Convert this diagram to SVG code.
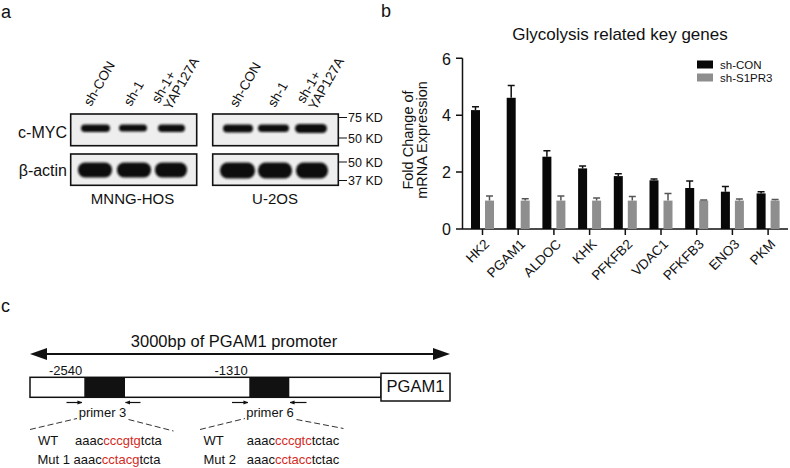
<svg xmlns="http://www.w3.org/2000/svg" width="790" height="468" viewBox="0 0 790 468">
<defs>
<style>
text{font-family:"Liberation Sans",Arial,sans-serif;fill:#111}
.pl{font-size:18px}
.lane{font-size:13.5px}
.row{font-size:16px;text-anchor:end}
.cell{font-size:15px;text-anchor:middle}
.kd{font-size:12.5px}
.blot{fill:#eeeeee;stroke:#111;stroke-width:1.6}
.band{fill:#111;filter:url(#blur)}
.ax{stroke:#111;stroke-width:1.5;fill:none}
.bk{fill:#080808}
.gr{fill:#8e8e8e}
.eb{stroke:#111;stroke-width:1.5;fill:none}
.ebg{stroke:#555;stroke-width:1.5;fill:none}
.tk{font-size:16px;text-anchor:end}
.xl{font-size:13.5px;text-anchor:end}
.lg{font-size:11.5px}
.seq{font-size:13px}
.red{fill:#d42a1e}
.dash{stroke:#333;stroke-width:1;stroke-dasharray:6 3;fill:none}
.pr{stroke:#111;stroke-width:1.2;fill:none}
</style>
<filter id="blur" x="-20%" y="-50%" width="140%" height="200%"><feGaussianBlur stdDeviation="1.3"/></filter>
<marker id="pa" viewBox="0 0 6 6" refX="5.5" refY="3" markerWidth="5" markerHeight="5" markerUnits="userSpaceOnUse" orient="auto"><path d="M0,0.5 L6,3 L0,5.5 Z" fill="#111"/></marker>
</defs>
<rect width="790" height="468" fill="#fff"/>

<!-- Panel a -->
<g id="panel-a">
<text class="pl" x="1" y="18">a</text>
<g id="blot-mnng">
<text class="lane" transform="translate(91,107) rotate(-60)">sh-CON</text>
<text class="lane" transform="translate(131,107) rotate(-60)">sh-1</text>
<text class="lane" transform="translate(159,104) rotate(-60)"><tspan x="0" y="0">sh-1+</tspan><tspan x="0" y="13.5">YAP127A</tspan></text>
<text class="row" x="67" y="138">c-MYC</text>
<text class="row" x="67" y="176">β-actin</text>
<rect class="blot" x="70.7" y="114" width="126" height="31.7"/>
<rect class="blot" x="70.7" y="154" width="126" height="31.3"/>
<rect class="band" x="81" y="124.5" width="29" height="7.5" rx="3.7"/>
<rect class="band" x="119" y="124.5" width="28" height="7" rx="3.5"/>
<rect class="band" x="158" y="124.5" width="27" height="7.5" rx="3.7"/>
<rect class="band" x="78" y="162.5" width="34" height="15" rx="7"/>
<rect class="band" x="117" y="162.5" width="34" height="15" rx="7"/>
<rect class="band" x="155" y="162.5" width="32" height="15" rx="7"/>
<text class="cell" x="132.5" y="204">MNNG-HOS</text>
</g>
<g id="blot-u2os">
<text class="lane" transform="translate(237,108) rotate(-60)">sh-CON</text>
<text class="lane" transform="translate(275,108) rotate(-60)">sh-1</text>
<text class="lane" transform="translate(304,104) rotate(-60)"><tspan x="0" y="0">sh-1+</tspan><tspan x="0" y="13.5">YAP127A</tspan></text>
<rect class="blot" x="212.7" y="114" width="125.6" height="31.7"/>
<rect class="blot" x="212.7" y="154" width="125.6" height="31.3"/>
<rect class="band" x="223" y="124.5" width="30" height="8" rx="4"/>
<rect class="band" x="258" y="124.5" width="31" height="7.5" rx="3.7"/>
<rect class="band" x="295" y="124" width="32" height="9" rx="4.5"/>
<rect class="band" x="220" y="162.5" width="35" height="16" rx="7.5"/>
<rect class="band" x="258" y="162.5" width="34" height="16" rx="7.5"/>
<rect class="band" x="296" y="162.5" width="32" height="16" rx="7.5"/>
<text class="cell" x="275" y="204">U-2OS</text>
<path class="ax" d="M338.3,117.5 H347 M338.3,138 H347 M338.3,162 H347 M338.3,180.5 H347" style="stroke-width:1.2"/>
<text class="kd" x="348" y="122">75 KD</text>
<text class="kd" x="348" y="142.5">50 KD</text>
<text class="kd" x="348" y="166.5">50 KD</text>
<text class="kd" x="348" y="185">37 KD</text>
</g>
</g>

<!-- Panel b -->
<g id="panel-b">
<text class="pl" x="381" y="17">b</text>
<text x="620" y="40" style="font-size:17px;text-anchor:middle">Glycolysis related key genes</text>
<text transform="translate(412.5,140) rotate(-90)" style="font-size:14.5px;text-anchor:middle">Fold Change of</text>
<text transform="translate(427,140) rotate(-90)" style="font-size:14.5px;text-anchor:middle">mRNA Expression</text>
<g id="axes">
<path class="ax" d="M462.5,58.3 V229 M456,229 H788 M456,58.3 H462.5 M456,115.2 H462.5 M456,172.1 H462.5"/>
<text class="tk" x="451" y="64.5">6</text>
<text class="tk" x="451" y="121.4">4</text>
<text class="tk" x="451" y="178.3">2</text>
<text class="tk" x="451" y="235">0</text>
<path class="ax" d="M482.5,229 V235 M518.2,229 V235 M553.9,229 V235 M589.6,229 V235 M625.3,229 V235 M661,229 V235 M696.7,229 V235 M732.4,229 V235 M768.1,229 V235"/>
</g>
<g id="bars">
<!-- HK2 -->
<rect class="bk" x="471" y="110.1" width="9" height="118.9"/>
<path class="eb" d="M475.5,110.1 V106.7 M472,106.7 H479"/>
<rect class="gr" x="485" y="200.6" width="9" height="28.4"/>
<path class="ebg" d="M489.5,200.6 V196 M486,196 H493"/>
<!-- PGAM1 -->
<rect class="bk" x="506.7" y="97.8" width="9" height="131.2"/>
<path class="eb" d="M511.2,97.8 V85.6 M507.7,85.6 H514.7"/>
<rect class="gr" x="520.7" y="200.6" width="9" height="28.4"/>
<path class="ebg" d="M525.2,200.6 V198.8 M521.7,198.8 H528.7"/>
<!-- ALDOC -->
<rect class="bk" x="542.4" y="156.7" width="9" height="72.3"/>
<path class="eb" d="M546.9,156.7 V150.8 M543.4,150.8 H550.4"/>
<rect class="gr" x="556.4" y="200.6" width="9" height="28.4"/>
<path class="ebg" d="M560.9,200.6 V196 M557.4,196 H564.4"/>
<!-- KHK -->
<rect class="bk" x="578.1" y="168.4" width="9" height="60.6"/>
<path class="eb" d="M582.6,168.4 V166.1 M579.1,166.1 H586.1"/>
<rect class="gr" x="592.1" y="200.6" width="9" height="28.4"/>
<path class="ebg" d="M596.6,200.6 V198 M593.1,198 H600.1"/>
<!-- PFKFB2 -->
<rect class="bk" x="613.8" y="176.1" width="9" height="52.9"/>
<path class="eb" d="M618.3,176.1 V173.8 M614.8,173.8 H621.8"/>
<rect class="gr" x="627.8" y="200.6" width="9" height="28.4"/>
<path class="ebg" d="M632.3,200.6 V196.6 M628.8,196.6 H635.8"/>
<!-- VDAC1 -->
<rect class="bk" x="649.5" y="180.3" width="9" height="48.7"/>
<path class="eb" d="M654,180.3 V178.9 M650.5,178.9 H657.5"/>
<rect class="gr" x="663.5" y="200.6" width="9" height="28.4"/>
<path class="ebg" d="M668,200.6 V193.4 M664.5,193.4 H671.5"/>
<!-- PFKFB3 -->
<rect class="bk" x="685.2" y="188" width="9" height="41"/>
<path class="eb" d="M689.7,188 V180.9 M686.2,180.9 H693.2"/>
<rect class="gr" x="699.2" y="200.6" width="9" height="28.4"/>
<path class="ebg" d="M703.7,200.6 V200 M700.2,200 H707.2"/>
<!-- ENO3 -->
<rect class="bk" x="720.9" y="191.7" width="9" height="37.3"/>
<path class="eb" d="M725.4,191.7 V186.6 M721.9,186.6 H728.9"/>
<rect class="gr" x="734.9" y="200.6" width="9" height="28.4"/>
<path class="ebg" d="M739.4,200.6 V199.1 M735.9,199.1 H742.9"/>
<!-- PKM -->
<rect class="bk" x="756.6" y="193.4" width="9" height="35.6"/>
<path class="eb" d="M761.1,193.4 V191.7 M757.6,191.7 H764.6"/>
<rect class="gr" x="770.6" y="200.6" width="9" height="28.4"/>
<path class="ebg" d="M775.1,200.6 V199.4 M771.6,199.4 H778.6"/>
</g>
<g id="xlabels">
<text class="xl" transform="translate(490,245) rotate(-45)">HK2</text>
<text class="xl" transform="translate(526,245) rotate(-45)">PGAM1</text>
<text class="xl" transform="translate(562,245) rotate(-45)">ALDOC</text>
<text class="xl" transform="translate(597.6,245) rotate(-45)">KHK</text>
<text class="xl" transform="translate(633.3,245) rotate(-45)">PFKFB2</text>
<text class="xl" transform="translate(669,245) rotate(-45)">VDAC1</text>
<text class="xl" transform="translate(704.7,245) rotate(-45)">PFKFB3</text>
<text class="xl" transform="translate(740.4,245) rotate(-45)">ENO3</text>
<text class="xl" transform="translate(776.1,245) rotate(-45)">PKM</text>
</g>
<g id="legend">
<rect class="bk" x="697" y="60.5" width="16" height="8"/>
<text class="lg" x="720" y="69">sh-CON</text>
<rect class="gr" x="697" y="73.5" width="16" height="8"/>
<text class="lg" x="720" y="82">sh-S1PR3</text>
</g>
</g>

<!-- Panel c -->
<g id="panel-c">
<text class="pl" x="1" y="312">c</text>
<g id="span-arrow">
<path d="M45,354 H435" stroke="#111" stroke-width="2"/>
<polygon points="30,354 47,348 47,360" fill="#111"/>
<polygon points="450,354 433,348 433,360" fill="#111"/>
<text x="234" y="346.5" style="font-size:16.5px;text-anchor:middle">3000bp of PGAM1 promoter</text>
</g>
<g id="promoter">
<rect x="30" y="377.3" width="351" height="20" fill="#fff" stroke="#111" stroke-width="1.5"/>
<rect x="84.3" y="377.3" width="40.7" height="20" fill="#111"/>
<rect x="249.3" y="377.3" width="40" height="20" fill="#111"/>
<text x="65.5" y="374.5" style="font-size:13px;text-anchor:middle">-2540</text>
<text x="231" y="374.5" style="font-size:13px;text-anchor:middle">-1310</text>
</g>
<g id="pgam1-box">
<rect x="381" y="373.3" width="69" height="27.7" fill="#fff" stroke="#111" stroke-width="1.5"/>
<text x="415.5" y="392" style="font-size:16.5px;text-anchor:middle">PGAM1</text>
</g>
<g id="primer3">
<path class="pr" d="M66.5,402.5 H82" marker-end="url(#pa)"/>
<path class="pr" d="M140.5,402.5 H125.5" marker-end="url(#pa)"/>
<text x="102.5" y="416.5" style="font-size:13px;text-anchor:middle">primer 3</text>
</g>
<g id="primer6">
<path class="pr" d="M232,402.5 H248" marker-end="url(#pa)"/>
<path class="pr" d="M306.5,402.5 H290" marker-end="url(#pa)"/>
<text x="270" y="416.5" style="font-size:13px;text-anchor:middle">primer 6</text>
</g>
<g id="connectors">
<path class="dash" d="M30,429.5 L77,418.5 M128.5,419.5 L173.5,431"/>
<path class="dash" d="M200,429.5 L245,418.5 M296.5,419.5 L343.5,428.5"/>
</g>
<g id="seq1">
<text class="seq" x="38" y="445">WT</text>
<text class="seq" x="75" y="445">aaac<tspan class="red">cccgtg</tspan>tcta</text>
<text class="seq" x="37.5" y="464">Mut 1 aaac<tspan class="red">cctacg</tspan>tcta</text>
</g>
<g id="seq2">
<text class="seq" x="203.5" y="445">WT</text>
<text class="seq" x="246.7" y="445">aaac<tspan class="red">cccgtc</tspan>tctac</text>
<text class="seq" x="203.5" y="464">Mut 2</text>
<text class="seq" x="246.7" y="464">aaac<tspan class="red">cctacc</tspan>tctac</text>
</g>
</g>
</svg>
